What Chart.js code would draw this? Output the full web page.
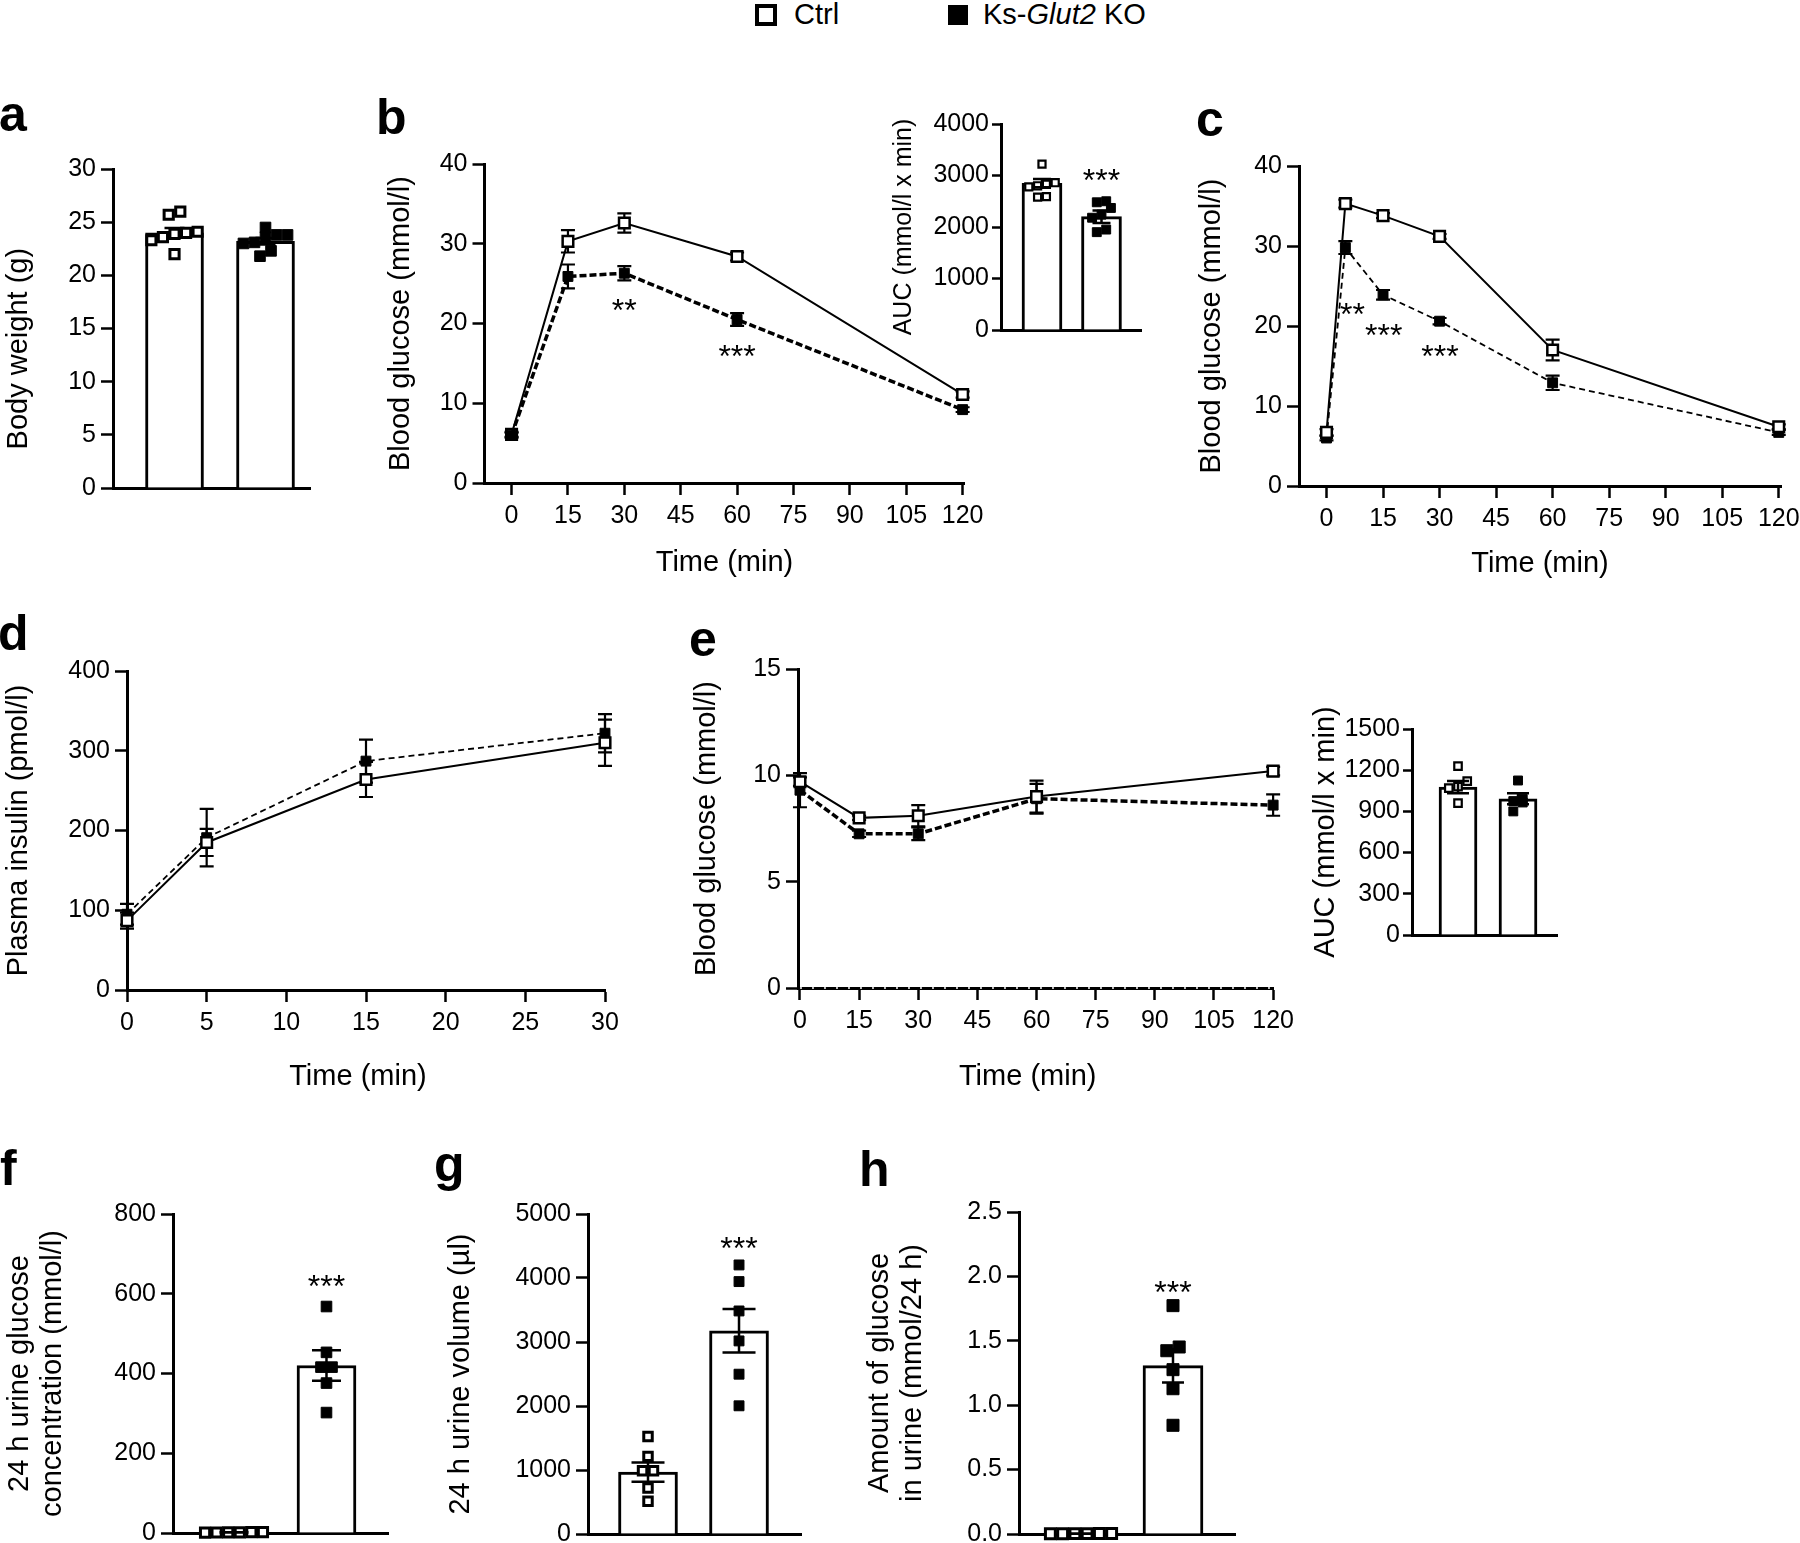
<!DOCTYPE html>
<html>
<head>
<meta charset="utf-8">
<title>Ks-Glut2 KO metabolic phenotype</title>
<script src="https://cdn.jsdelivr.net/npm/chart.js@4.4.1/dist/chart.umd.min.js"></script>
<style>
  html, body { margin:0; padding:0; background:#fff; }
  body { width:1800px; height:1543px; position:relative; overflow:hidden; font-family:"Liberation Sans", Arial, Helvetica, sans-serif; color:#000; }
  .letter { position:absolute; font-weight:bold; font-size:50px; line-height:50px; }
  .lg-text { position:absolute; font-size:29px; line-height:29px; white-space:nowrap; }
  .sq-open { position:absolute; box-sizing:border-box; border:4px solid #000; background:#fff; }
  .sq-fill { position:absolute; background:#000; }
  canvas { position:absolute; }
</style>
</head>
<body>
<div class="sq-open" style="left:755px;top:4px;width:22px;height:22px;"></div>
<div class="lg-text" style="left:794px;top:0px;">Ctrl</div>
<div class="sq-fill" style="left:948px;top:5px;width:20px;height:20px;"></div>
<div class="lg-text" style="left:983px;top:0px;">Ks-<i>Glut2</i> KO</div>

<div class="letter" style="left:-1px;top:89px;">a</div>
<div class="letter" style="left:376px;top:92px;">b</div>
<div class="letter" style="left:1196px;top:94px;">c</div>
<div class="letter" style="left:-2px;top:608px;">d</div>
<div class="letter" style="left:689px;top:614px;">e</div>
<div class="letter" style="left:0px;top:1143px;">f</div>
<div class="letter" style="left:434px;top:1139px;">g</div>
<div class="letter" style="left:859px;top:1144px;">h</div>

<script>
// ================= DATA =================
const groups = ['Ctrl', 'Ks-Glut2 KO'];

// a: body weight (g)
const aYTicks = [0, 5, 10, 15, 20, 25, 30];
const aMeans = [24.0, 23.2];
const aSem = [0.45, 0.3];
const aCtrlPts = [24.1, 26.0, 23.6, 22.0, 24.0, 25.7, 23.9, 23.3];
const aKoPts = [24.5, 23.0, 23.8, 21.8, 23.6, 22.3, 23.8, 23.1];

// b: blood glucose (mmol/l)
const bTime = [0, 15, 30, 60, 120];
const bXTicks = [0, 15, 30, 45, 60, 75, 90, 105, 120];
const bYTicks = [0, 10, 20, 30, 40];
const bCtrl = [6.1, 30.3, 32.6, 28.4, 11.1];
const bCtrlSem = [0.3, 1.4, 1.2, 0.5, 0.4];
const bKo = [6.0, 25.9, 26.3, 20.5, 9.2];
const bKoSem = [0.3, 1.5, 0.9, 0.8, 0.3];
const bStars = [{x: 30, y: 22.6, text: '**'}, {x: 60, y: 16.9, text: '***'}];
// b inset: AUC
const bAucTicks = [0, 1000, 2000, 3000, 4000];
const bAucMeans = [2850, 2200];
const bAucSem = [80, 120];
const bAucCtrlPts = [3220, 2860, 2830, 2800, 2780, 2590, 2580];
const bAucKoPts = [2500, 2480, 2370, 2240, 2180, 1950, 1900];
const bAucStars = [{x: 2, y: 3050, text: '***'}];

// c: blood glucose (mmol/l)
const cTime = [0, 5, 15, 30, 60, 120];
const cXTicks = [0, 15, 30, 45, 60, 75, 90, 105, 120];
const cYTicks = [0, 10, 20, 30, 40];
const cCtrl = [6.7, 35.3, 33.8, 31.2, 17.0, 7.4];
const cCtrlSem = [0.4, 0.5, 0.3, 0.3, 1.3, 0.3];
const cKo = [6.0, 29.8, 23.9, 20.6, 12.9, 6.7];
const cKoSem = [0.3, 0.8, 0.6, 0.4, 0.9, 0.3];
const cStars = [{x: 6.9, y: 22.5, text: '**'}, {x: 15.2, y: 19.8, text: '***'}, {x: 30.1, y: 17.2, text: '***'}];

// d: plasma insulin (pmol/l)
const dTime = [0, 5, 15, 30];
const dXTicks = [0, 5, 10, 15, 20, 25, 30];
const dYTicks = [0, 100, 200, 300, 400];
const dCtrl = [87, 185, 264, 310];
const dCtrlSem = [10, 17, 22, 29];
const dKo = [95, 191, 287, 322];
const dKoSem = [13, 36, 27, 24];

// e: blood glucose (mmol/l)
const eTime = [0, 15, 30, 60, 120];
const eXTicks = [0, 15, 30, 45, 60, 75, 90, 105, 120];
const eYTicks = [0, 5, 10, 15];
const eCtrl = [9.7, 8.0, 8.1, 9.0, 10.2];
const eCtrlSem = [0.2, 0.1, 0.5, 0.75, 0.2];
const eKo = [9.3, 7.25, 7.25, 8.9, 8.6];
const eKoSem = [0.8, 0.15, 0.3, 0.7, 0.5];
const eBaseTime = [0, 120];
const eBase = [0, 0];
// e inset: AUC
const eAucTicks = [0, 300, 600, 900, 1200, 1500];
const eAucMeans = [1077, 992];
const eAucSem = [45, 40];
const eAucCtrlPts = [1230, 1120, 1080, 1070, 960];
const eAucKoPts = [1125, 990, 975, 965, 900];

// f: 24 h urine glucose concentration (mmol/l)
const fYTicks = [0, 200, 400, 600, 800];
const fMeans = [1.5, 420];
const fSem = [0.3, 38];
const fCtrlPts = [1.5, 2.0, 1.2, 1.8, 2.2, 1.0];
const fKoPts = [568, 453, 416, 416, 376, 302];
const fStars = [{x: 2, y: 639, text: '***'}];

// g: 24 h urine volume (µl)
const gYTicks = [0, 1000, 2000, 3000, 4000, 5000];
const gMeans = [968, 3174];
const gSem = [150, 340];
const gCtrlPts = [1525, 1213, 988, 988, 718, 510];
const gKoPts = [4204, 3944, 3485, 3017, 2497, 2003];
const gStars = [{x: 2, y: 4594, text: '***'}];

// h: amount of glucose in urine (mmol/24 h)
const hYTicks = [0, 0.5, 1.0, 1.5, 2.0, 2.5];
const hMeans = [0.003, 1.307];
const hSem = [0.001, 0.13];
const hCtrlPts = [0.002, 0.003, 0.004, 0.003, 0.002, 0.004];
const hKoPts = [1.773, 1.452, 1.423, 1.276, 1.128, 0.844];
const hStars = [{x: 2, y: 1.936, text: '***'}];

// ================= LAYOUT (page pixels) =================
const GEO = {
  a:  {L:113,   R:310,   T:169, B:488,  boxL:0,    boxT:140,  boxR:330,  boxB:510,  xmin:0.324, xmax:2.489, ymin:0, ymax:30},
  b:  {L:484.5, R:964.5, T:164, B:483,  boxL:381,  boxT:135,  boxR:995,  boxB:583,  xmin:-7.2,  xmax:120.5, ymin:0, ymax:40},
  bA: {L:1001,  R:1141,  T:124, B:330,  boxL:884,  boxT:95,   boxR:1160, boxB:352,  xmin:0.311, xmax:2.664, ymin:0, ymax:4000},
  c:  {L:1299,  R:1781,  T:166, B:486,  boxL:1192, boxT:137,  boxR:1811, boxB:584,  xmin:-7.3,  xmax:120.6, ymin:0, ymax:40},
  d:  {L:127,   R:605,   T:671, B:990,  boxL:0,    boxT:642,  boxR:635,  boxB:1097, xmin:0,     xmax:30,    ymin:0, ymax:400},
  e:  {L:798,   R:1278,  T:669, B:988,  boxL:687,  boxT:640,  boxR:1300, boxB:1097, xmin:-0.5,  xmax:120.1, ymin:0, ymax:15},
  eA: {L:1412,  R:1557,  T:729, B:935,  boxL:1306, boxT:690,  boxR:1575, boxB:975,  xmin:0.233, xmax:2.65,  ymin:0, ymax:1500},
  f:  {L:173,   R:388,   T:1214, B:1533, boxL:0,   boxT:1190, boxR:400,  boxB:1555, xmin:0.3405, xmax:2.665, ymin:0, ymax:800},
  g:  {L:588,   R:801,   T:1214, B:1534, boxL:441, boxT:1190, boxR:815,  boxB:1556, xmin:0.3407, xmax:2.681, ymin:0, ymax:5000},
  h:  {L:1019,  R:1235,  T:1212, B:1534, boxL:860, boxT:1188, boxR:1250, boxB:1556, xmin:0.326, xmax:2.674, ymin:0, ymax:2.5}
};

const FONT = '"Liberation Sans", Arial, Helvetica, sans-serif';
const NB = '\u00a0';
Chart.defaults.font.family = FONT;
Chart.defaults.color = '#000';
const TICK_FONT = {family: FONT, size: 25};
const TITLE_SIZE = 29;

// ================= PLUGINS =================
function drawErr(chart, o, onlyIdx) {
  if (!o || !o.items) return;
  const ctx = chart.ctx, ys = chart.scales.y;
  ctx.save();
  ctx.strokeStyle = '#000';
  ctx.lineWidth = o.width || 2.5;
  o.items.forEach(it => {
    if (onlyIdx !== null && it.ds !== onlyIdx) return;
    const meta = chart.getDatasetMeta(it.ds);
    const data = chart.data.datasets[it.ds].data;
    meta.data.forEach((el, i) => {
      const s = it.sem[i];
      if (!s) return;
      const v = data[i].y;
      const x = el.x, y1 = ys.getPixelForValue(v + s), y2 = ys.getPixelForValue(v - s);
      const h = it.cap / 2;
      ctx.beginPath();
      ctx.moveTo(x, y1); ctx.lineTo(x, y2);
      ctx.moveTo(x - h, y1); ctx.lineTo(x + h, y1);
      ctx.moveTo(x - h, y2); ctx.lineTo(x + h, y2);
      ctx.stroke();
    });
  });
  ctx.restore();
}
const errPlugin = {
  id: 'errbars',
  beforeDatasetsDraw(chart, args, o) { if (o && o.layer === 'under') drawErr(chart, o, null); },
  afterDatasetDraw(chart, args, o) { if (o && o.layer === 'afterDs') drawErr(chart, o, args.index); },
  afterDatasetsDraw(chart, args, o) { if (o && o.layer === 'top') drawErr(chart, o, null); }
};
const starPlugin = {
  id: 'stars',
  afterDatasetsDraw(chart, args, o) {
    if (!o || !o.items || !o.items.length) return;
    const ctx = chart.ctx, xs = chart.scales.x, ys = chart.scales.y;
    const size = o.size || 32;
    ctx.save();
    ctx.fillStyle = '#000';
    ctx.font = size + 'px ' + FONT;
    ctx.textAlign = 'center';
    ctx.textBaseline = 'alphabetic';
    o.items.forEach(it => ctx.fillText(it.text, xs.getPixelForValue(it.x), ys.getPixelForValue(it.y) + 0.58 * size));
    ctx.restore();
  }
};
Chart.register(errPlugin, starPlugin);

// ================= HELPERS =================
function makePanel(geo, config) {
  const w = geo.boxR - geo.boxL, h = geo.boxB - geo.boxT;
  const cv = document.createElement('canvas');
  cv.width = w; cv.height = h;
  cv.style.left = geo.boxL + 'px'; cv.style.top = geo.boxT + 'px';
  cv.style.width = w + 'px'; cv.style.height = h + 'px';
  document.body.appendChild(cv);
  const base = {
    responsive: false, animation: false, events: [], devicePixelRatio: 1,
    layout: {padding: {left: 0, top: geo.T - geo.boxT, right: geo.boxR - geo.R, bottom: 0}}
  };
  config.options = Object.assign(base, config.options);
  config.options.plugins = Object.assign({legend: {display: false}, tooltip: {enabled: false}}, config.options.plugins || {});
  return new Chart(cv.getContext('2d'), config);
}

function axisY(geo, ticksArr, title, opt) {
  opt = opt || {};
  return {
    type: 'linear', min: geo.ymin, max: geo.ymax,
    afterBuildTicks: s => { s.ticks = ticksArr.map(v => ({value: v})); },
    ticks: {font: TICK_FONT, color: '#000', padding: opt.tickPad ?? 5, autoSkip: false,
            callback: opt.fmt || (v => String(v))},
    grid: {display: true, drawOnChartArea: false, drawTicks: true, tickLength: opt.tickLen ?? 12,
           tickWidth: 2.5, tickColor: '#000', color: '#000'},
    border: {display: true, color: '#000', width: 3},
    title: {display: true, text: title, font: {family: FONT, size: opt.titleSize || TITLE_SIZE, lineHeight: 1.14},
            color: '#000', padding: {top: opt.titlePad ?? 3, bottom: 0}},
    afterFit: s => { s.width = geo.L - geo.boxL; }
  };
}
function axisXLine(geo, ticksArr, title) {
  return {
    type: 'linear', min: geo.xmin, max: geo.xmax, offset: false,
    afterBuildTicks: s => { s.ticks = ticksArr.map(v => ({value: v})); },
    ticks: {font: TICK_FONT, color: '#000', padding: 6, maxRotation: 0, autoSkip: false, callback: v => String(v)},
    grid: {display: true, offset: false, drawOnChartArea: false, drawTicks: true, tickLength: 12,
           tickWidth: 2.5, tickColor: '#000', color: '#000'},
    border: {display: true, color: '#000', width: 3},
    title: {display: true, text: title, font: {family: FONT, size: TITLE_SIZE, lineHeight: 1.14},
            color: '#000', padding: {top: 0, bottom: 3}},
    afterFit: s => { s.height = geo.boxB - geo.B; }
  };
}
function axisXBar(geo) {
  return {
    type: 'linear', min: geo.xmin, max: geo.xmax, offset: false,
    ticks: {display: false}, grid: {display: false, offset: false},
    border: {display: true, color: '#000', width: 3},
    afterFit: s => { s.height = geo.boxB - geo.B; }
  };
}

// scatter layout: values close in pixel height are spread side by side in a centred row
function swarm(values, center, geo, sizePx) {
  const pxX = (geo.R - geo.L) / (geo.xmax - geo.xmin);
  const pxY = (geo.B - geo.T) / (geo.ymax - geo.ymin);
  const order = values.map((v, i) => i).sort((a, b) => values[a] - values[b]);
  const rows = [];
  let row = null;
  order.forEach(i => {
    if (row && (values[i] - values[row[0]]) * pxY < sizePx) row.push(i);
    else { row = [i]; rows.push(row); }
  });
  const out = [];
  rows.forEach(r => r.forEach((i, k) => {
    out[i] = {x: center + (k - (r.length - 1) / 2) * sizePx * 0.95 / pxX, y: values[i]};
  }));
  return out;
}

function barPanel(geo, yTicks, yTitle, means, sem, ctrlPts, koPts, opt) {
  const sizeC = 1.414 * opt.rc + opt.bwc, sizeK = 1.414 * opt.rk + 1;
  return makePanel(geo, {
    type: 'bar',
    data: {datasets: [
      {type: 'line', showLine: false, data: swarm(ctrlPts, 1, geo, sizeC), pointStyle: 'rect',
       pointRadius: opt.rc, pointBackgroundColor: '#fff', pointBorderColor: '#000', pointBorderWidth: opt.bwc,
       clip: false, order: 1},
      {type: 'line', showLine: false, data: swarm(koPts, 2, geo, sizeK), pointStyle: 'rect',
       pointRadius: opt.rk, pointBackgroundColor: '#000', pointBorderColor: '#000', pointBorderWidth: 1,
       clip: false, order: 1},
      {type: 'bar', data: means.map((m, i) => ({x: i + 1, y: m})), backgroundColor: '#fff',
       borderColor: '#000', borderWidth: 3, barThickness: opt.thick, borderSkipped: 'bottom', order: 2}
    ]},
    options: {
      scales: {x: axisXBar(geo), y: axisY(geo, yTicks, yTitle, opt)},
      plugins: {
        errbars: {layer: opt.errLayer || 'top', width: 2.5, items: [{ds: 2, sem: sem, cap: opt.cap}]},
        stars: {items: opt.stars || [], size: 32}
      }
    }
  });
}

function linePanel(geo, xTicks, yTicks, yTitle, xTitle, time, ctrl, ctrlSem, ko, koSem, opt) {
  const datasets = [
    {type: 'line', data: time.map((t, i) => ({x: t, y: ctrl[i]})), borderColor: '#000', borderWidth: 2,
     tension: 0, pointStyle: 'rect', pointRadius: 7.5, pointBackgroundColor: '#fff', pointBorderColor: '#000',
     pointBorderWidth: 2.5, clip: false, order: opt.koTop ? 1 : 0},
    {type: 'line', data: time.map((t, i) => ({x: t, y: ko[i]})), borderColor: '#000', borderWidth: opt.koWidth,
     borderDash: opt.dash, tension: 0, pointStyle: 'rect', pointRadius: 7, pointBackgroundColor: '#000',
     pointBorderColor: '#000', pointBorderWidth: 1, clip: false, order: opt.koTop ? 0 : 1}
  ];
  (opt.extra || []).forEach(d => datasets.push(d));
  return makePanel(geo, {
    type: 'line',
    data: {datasets},
    options: {
      scales: {x: axisXLine(geo, xTicks, xTitle), y: axisY(geo, yTicks, yTitle, opt)},
      plugins: {
        errbars: {layer: 'under', width: 2.2, items: [{ds: 0, sem: ctrlSem, cap: 14}, {ds: 1, sem: koSem, cap: 14}]},
        stars: {items: opt.stars || [], size: 32}
      }
    }
  });
}

// ================= PANELS =================
barPanel(GEO.a, aYTicks, 'Body weight (g)' + NB.repeat(5), aMeans, aSem, aCtrlPts, aKoPts,
  {rc: 6.5, bwc: 3, rk: 7.5, thick: 58, cap: 20, errLayer: 'afterDs', titlePad: 2.5});

linePanel(GEO.b, bXTicks, bYTicks, 'Blood glucose (mmol/l)', 'Time (min)', bTime, bCtrl, bCtrlSem, bKo, bKoSem,
  {koWidth: 3.5, dash: [7, 3], koTop: true, stars: bStars});

barPanel(GEO.bA, bAucTicks, 'AUC (mmol/l x min)', bAucMeans, bAucSem, bAucCtrlPts, bAucKoPts,
  {rc: 5, bwc: 2.2, rk: 6.3, thick: 40, cap: 18, stars: bAucStars, tickLen: 9, tickPad: 3, titleSize: 25, titlePad: 5.5});

linePanel(GEO.c, cXTicks, cYTicks, 'Blood glucose (mmol/l)', 'Time (min)', cTime, cCtrl, cCtrlSem, cKo, cKoSem,
  {koWidth: 1.8, dash: [6, 4], koTop: false, stars: cStars});

linePanel(GEO.d, dXTicks, dYTicks, 'Plasma insulin (pmol/l)', 'Time (min)' + NB.repeat(2), dTime, dCtrl, dCtrlSem, dKo, dKoSem,
  {koWidth: 1.8, dash: [6, 4], koTop: false, titlePad: 2});

linePanel(GEO.e, eXTicks, eYTicks, 'Blood glucose (mmol/l)', 'Time (min)' + NB.repeat(2), eTime, eCtrl, eCtrlSem, eKo, eKoSem,
  {koWidth: 3.5, dash: [7, 3], koTop: false,
   extra: [{type: 'line', data: eBaseTime.map((t, i) => ({x: t, y: eBase[i]})), borderColor: '#fff',
            borderWidth: 1.4, borderDash: [2, 10], pointRadius: 0, clip: false, order: -1}]});

barPanel(GEO.eA, eAucTicks, 'AUC (mmol/l x min)', eAucMeans, eAucSem, eAucCtrlPts, eAucKoPts,
  {rc: 5.3, bwc: 2.2, rk: 6.3, thick: 38, cap: 22, tickLen: 9, tickPad: 3});

barPanel(GEO.f, fYTicks, ['24 h urine glucose', 'concentration (mmol/l)'], fMeans, fSem, fCtrlPts, fKoPts,
  {rc: 6.5, bwc: 3, rk: 7.5, thick: 59, cap: 29, stars: fStars, titlePad: 3.5});

barPanel(GEO.g, gYTicks, '24 h urine volume (\u00b5l)', gMeans, gSem, gCtrlPts, gKoPts,
  {rc: 6, bwc: 3, rk: 7, thick: 59, cap: 33, stars: gStars});

barPanel(GEO.h, hYTicks, ['Amount of glucose', 'in urine (mmol/24 h)'], hMeans, hSem, hCtrlPts, hKoPts,
  {rc: 7, bwc: 3, rk: 8.5, thick: 60, cap: 22, stars: hStars, titlePad: 3.5, fmt: v => v.toFixed(1)});
</script>
</body>
</html>
